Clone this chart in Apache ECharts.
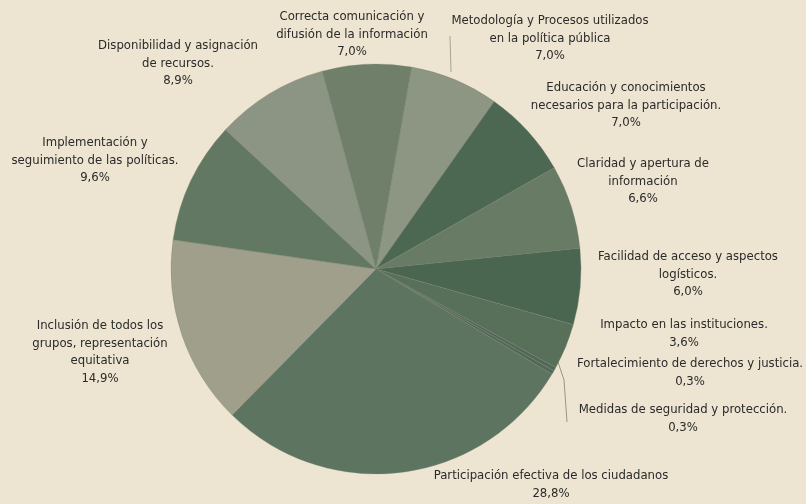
<!DOCTYPE html>
<html>
<head>
<meta charset="utf-8">
<script src="https://cdn.jsdelivr.net/npm/echarts@6/dist/echarts.min.js"></script>
<style>
  html, body { margin: 0; padding: 0; background: #ede5d1; }
  #chart { width: 806px; height: 504px; }
</style>
</head>
<body>
<div id="chart"></div>
<script>
// categories, clockwise from the top
const categories = [
  'Metodología y Procesos utilizados\nen la política pública',
  'Educación y conocimientos\nnecesarios para la participación.',
  'Claridad y apertura de\ninformación',
  'Facilidad de acceso y aspectos\nlogísticos.',
  'Impacto en las instituciones.',
  'Fortalecimiento de derechos y justicia.',
  'Medidas de seguridad y protección.',
  'Participación efectiva de los ciudadanos',
  'Inclusión de todos los\ngrupos, representación\nequitativa',
  'Implementación y\nseguimiento de las políticas.',
  'Disponibilidad y asignación\nde recursos.',
  'Correcta comunicación y\ndifusión de la información'
]
const values = [7.0, 7.0, 6.6, 6.0, 3.6, 0.3, 0.3, 28.8, 14.9, 9.6, 8.9, 7.0]

const sliceColors = ['#8d9683', '#4c6852', '#677b65', '#4a6550', '#587059', '#52695a', '#52695a',
  '#5c7460', '#a09f8c', '#627862', '#8c9484', '#6f7f6a']

// label anchor (center x, top y) for each slice
const labelAnchors = [
  [550, 12], [626, 79], [643, 155], [688, 248], [684, 316], [690, 355],
  [683, 401], [551, 467], [100, 317], [95, 134], [178, 37], [352, 8]
]

const chart = echarts.init(document.getElementById('chart'))

const fmt = v => v.toFixed(1).replace('.', ',') + '%'

chart.setOption({
  backgroundColor: '#ede5d1',
  animation: false,
  series: [
    {
      type: 'pie',
      center: [376, 269],
      radius: [0, 205],
      startAngle: 80,
      clockwise: true,
      avoidLabelOverlap: false,
      itemStyle: { borderWidth: 0.6, borderColor: 'rgba(120,130,110,0.6)' },
      label: {
        show: true,
        position: 'outside',
        formatter: p => p.name + '\n' + fmt(p.value),
        fontFamily: '"Liberation Sans Narrow", "DejaVu Sans Condensed", sans-serif',
        fontSize: 13,
        lineHeight: 17.5,
        color: '#2a2a2a',
        align: 'center'
      },
      labelLine: { show: false },
      labelLayout: p => ({
        x: labelAnchors[p.dataIndex][0],
        y: labelAnchors[p.dataIndex][1],
        align: 'center',
        verticalAlign: 'top'
      }),
      data: categories.map((c, i) => ({
        name: c,
        value: values[i],
        itemStyle: { color: sliceColors[i] }
      }))
    }
  ],
  graphic: [
    {
      type: 'polyline',
      shape: { points: [[558, 362], [564, 380], [567, 422]] },
      style: { stroke: '#9a958a', lineWidth: 1, fill: null }
    },
    {
      type: 'line',
      shape: { x1: 450, y1: 36, x2: 451, y2: 72 },
      style: { stroke: '#a8a294', lineWidth: 1 }
    }
  ]
})
</script>
</body>
</html>
